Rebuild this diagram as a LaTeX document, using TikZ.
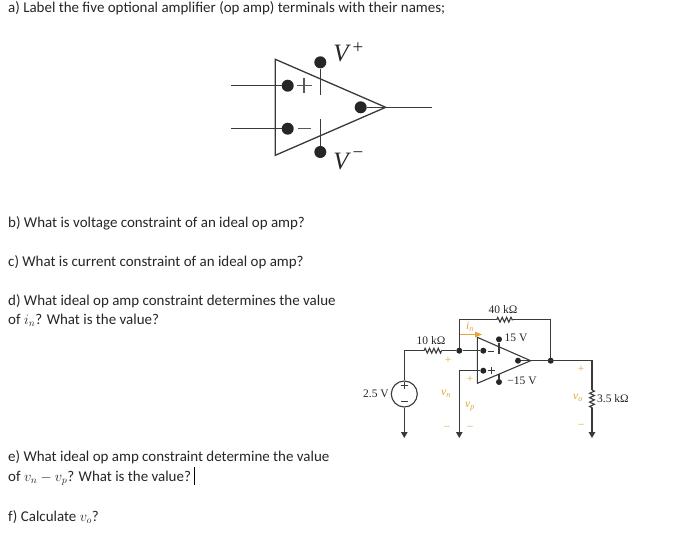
\documentclass[tikz,border=0pt]{standalone}
\usepackage{fontspec}
\setmainfont{Carlito}
\newfontfamily\serifc{Liberation Serif}
\usetikzlibrary{arrows.meta,decorations.pathmorphing}
\definecolor{ink}{HTML}{262626}
\definecolor{wire}{HTML}{3A3A3A}
\definecolor{amber}{HTML}{E5A433}
\begin{document}
\begin{tikzpicture}[x=1pt,y=-1pt,
  qtext/.style={anchor=base west,inner sep=0pt,text=ink,font=\fontsize{14.95}{16}\selectfont},
  bigw/.style={draw=wire,line width=1.3pt},
  bigdot/.style={circle,fill=ink,inner sep=0pt,minimum size=12pt},
  wirec/.style={draw=wire,line width=1.1pt},
  dotc/.style={circle,fill=ink,inner sep=0pt,minimum size=6pt},
  zig/.style={wirec,decorate,decoration={zigzag,segment length=4.4pt,amplitude=2.4pt}},
  gnd/.style={wirec,-{Triangle[length=6pt,width=6.5pt]}},
  clabel/.style={inner sep=0pt,text=ink,font=\serifc\fontsize{11.5}{12}\selectfont},
  olabel/.style={inner sep=0pt,text=amber,font=\serifc\fontsize{11.5}{12}\selectfont}]
\useasboundingbox (0,0) rectangle (686,547);
\fill[white] (0,0) rectangle (686,547);
% question text
\node[qtext] (qa) at (8,12) {a) Label the five optional amplifier (op amp) terminals with their names;};
\node[qtext] (qb) at (8,227) {b) What is voltage constraint of an ideal op amp?};
\node[qtext] (qc) at (8,266) {c) What is current constraint of an ideal op amp?};
\node[qtext] (qd) at (8,305) {d) What ideal op amp constraint determines the value};
\node[qtext] (qd2) at (8,324) {of $i_n$? What is the value?};
\node[qtext] (qe) at (8,461) {e) What ideal op amp constraint determine the value};
\node[qtext] (qe2) at (8,481) {of $v_n-v_p$? What is the value?};
\node[qtext] (qf) at (8,521) {f) Calculate $v_o$?};
\draw[black,line width=.8pt] (194.5,467) -- (194.5,485);
% large op amp
\coordinate (T1) at (275.3,59.3);
\coordinate (T2) at (275.3,155.3);
\coordinate (T3) at (385.7,107.3);
\draw[bigw,line join=miter] (T1) -- (T3) -- (T2) -- cycle;
\node[bigdot] (bp) at (287.7,85.7) {};
\node[bigdot] (bm) at (287.7,128.7) {};
\node[bigdot] (bo) at (360.7,107.3) {};
\node[bigdot] (bu) at (320.3,62.3) {};
\node[bigdot] (bl) at (320.3,152) {};
\coordinate (ip) at (231,85.7);
\coordinate (im) at (231,128.7);
\coordinate (oo) at (431.7,107.3);
\coordinate (ue) at (320.3,95);
\coordinate (le) at (320.3,119);
\draw[bigw] (ip) -- (bp);
\draw[bigw] (im) -- (bm);
\draw[bigw] (bo) -- (T3) -- (oo);
\draw[bigw] (bu) -- (ue);
\draw[bigw] (bl) -- (le);
\draw[bigw,draw=wire!85] (296.5,85.7) -- (311.5,85.7) (304,78.2) -- (304,93.2);
\draw[bigw,draw=wire!85] (297.5,128.7) -- (311,128.7);
\node[inner sep=0pt,text=ink,font=\serifc\itshape\fontsize{25}{25}\selectfont] (vp) at (341,53) {V};
\node[inner sep=0pt,text=ink,font=\serifc\fontsize{19}{19}\selectfont] (vps) at (358,48) {+};
\node[inner sep=0pt,text=ink,font=\serifc\itshape\fontsize{25}{25}\selectfont] (vm) at (341,161) {V};
\node[inner sep=0pt,text=ink,font=\serifc\fontsize{19}{19}\selectfont] (vms) at (358,155) {−};
% circuit
\coordinate (A1) at (477.3,337.3);
\coordinate (A2) at (477.3,383.3);
\coordinate (A3) at (530.7,360.7);
\draw[wirec] (A1) -- (A3) -- (A2) -- cycle;
\node[dotc] (n1) at (459.3,350.7) {};
\node[dotc] (n2) at (550.7,360.7) {};
\node[dotc] (dm) at (483.3,350.7) {};
\node[dotc] (dp) at (483.3,370.7) {};
\node[dotc] (dout) at (518,360.7) {};
\node[dotc] (dup) at (499,339.3) {};
\node[dotc] (dlo) at (499,382) {};
\coordinate (c1) at (459.3,319.7);
\coordinate (c2) at (550.7,319.7);
\coordinate (r4a) at (496.7,319.7);
\coordinate (r4b) at (513.3,319.7);
\coordinate (r1a) at (424,350.7);
\coordinate (r1b) at (441.7,350.7);
\coordinate (c3) at (404.3,350.7);
\coordinate (c4) at (459.3,370.7);
\coordinate (c5) at (592,360.7);
\coordinate (r3a) at (592,390);
\coordinate (r3b) at (592,408);
\coordinate (g1) at (404.3,438);
\coordinate (g2) at (459.3,438);
\coordinate (g3) at (592,438);
\coordinate (ue2) at (499,354.3);
\coordinate (le2) at (499,374);
\node[circle,draw=wire,line width=1.1pt,inner sep=0pt,minimum size=26pt] (src) at (404.3,394) {};
\draw[wirec] (n1) -- (c1) -- (r4a);
\draw[zig] (r4a) -- (r4b);
\draw[wirec] (r4b) -- (c2) -- (n2);
\draw[wirec] (src) -- (c3) -- (r1a);
\draw[zig] (r1a) -- (r1b);
\draw[wirec] (r1b) -- (n1) -- (dm);
\draw[gnd] (src) -- (g1);
\draw[wirec] (dp) -- (c4);
\draw[gnd] (c4) -- (g2);
\draw[wirec] (dout) -- (A3) -- (c5) -- (r3a);
\draw[zig] (r3a) -- (r3b);
\draw[gnd] (r3b) -- (g3);
\draw[wirec] (dup) -- (ue2);
\draw[wirec] (dlo) -- (le2);
\draw[wirec,line width=.8pt] (488,351) -- (494,351);
\draw[wirec,line width=.8pt] (487.5,370.7) -- (494.5,370.7) (491,367.2) -- (491,374.2);
\draw[wirec,line width=.8pt] (401,385.5) -- (408,385.5) (404.5,382) -- (404.5,389);
\draw[wirec,line width=.8pt] (401,401.5) -- (408,401.5);
\node[clabel] (l40) at (503,310) {40 kΩ};
\node[clabel] (l10) at (431,341) {10 kΩ};
\node[clabel] (l15) at (516,338) {15 V};
\node[clabel] (lm15) at (522,381) {−15 V};
\node[clabel] (l25) at (376,394) {2.5 V};
\node[clabel,anchor=west] (l35) at (597,399) {3.5 kΩ};
\coordinate (ia) at (460,334.5);
\coordinate (ib) at (482,334.5);
\draw[draw=amber,line width=1pt,-{Triangle[length=7pt,width=5.5pt]},amber] (ia) -- (ib);
\node[olabel] (lin) at (470,327) {\itshape i\textsubscript{n}};
\node[olabel] (vn) at (446,394) {\itshape v\textsubscript{n}};
\node[olabel] (vpl) at (470,407) {\itshape v\textsubscript{p}};
\node[olabel] (vo) at (578,398) {\itshape v\textsubscript{o}};
\node[olabel] (p1) at (448,360) {+};
\node[olabel] (p2) at (470,379) {+};
\node[olabel] (p3) at (581,369) {+};
\node[olabel] (m1) at (447,428) {−};
\node[olabel] (m2) at (470,428) {−};
\node[olabel] (m3) at (581,426) {−};
\end{tikzpicture}
\end{document}
